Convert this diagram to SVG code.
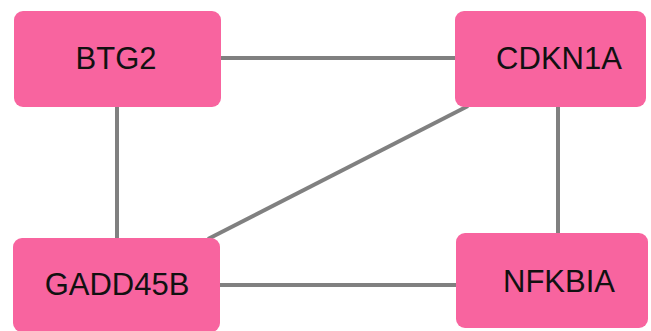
<svg xmlns="http://www.w3.org/2000/svg" width="651" height="331" viewBox="0 0 651 331">
<style>
.n{fill:#F8649F;}
.t{font-family:"Liberation Sans",Arial,sans-serif;font-size:31px;fill:#111;text-anchor:middle;}
.e{stroke:#808080;stroke-width:4;fill:none;}
</style>
<rect width="651" height="331" fill="#fff"/>
<g id="edges">
<line class="e" x1="221" y1="58" x2="455" y2="58"/>
<line class="e" x1="117" y1="107" x2="117" y2="238"/>
<line class="e" x1="558" y1="107" x2="558" y2="233"/>
<line class="e" x1="220" y1="285" x2="456" y2="285"/>
<line class="e" x1="468" y1="106" x2="208" y2="239"/>
</g>
<g id="BTG2"><rect class="n" x="14" y="11" width="207" height="96" rx="9"/><text class="t" x="116" y="69">BTG2</text></g>
<g id="CDKN1A"><rect class="n" x="455" y="11" width="191" height="96" rx="9"/><text class="t" x="559" y="69">CDKN1A</text></g>
<g id="GADD45B"><rect class="n" x="13" y="238" width="207" height="94" rx="9"/><text class="t" x="117" y="295">GADD45B</text></g>
<g id="NFKBIA"><rect class="n" x="456" y="233" width="192" height="95" rx="9"/><text class="t" x="559" y="292">NFKBIA</text></g>
</svg>
